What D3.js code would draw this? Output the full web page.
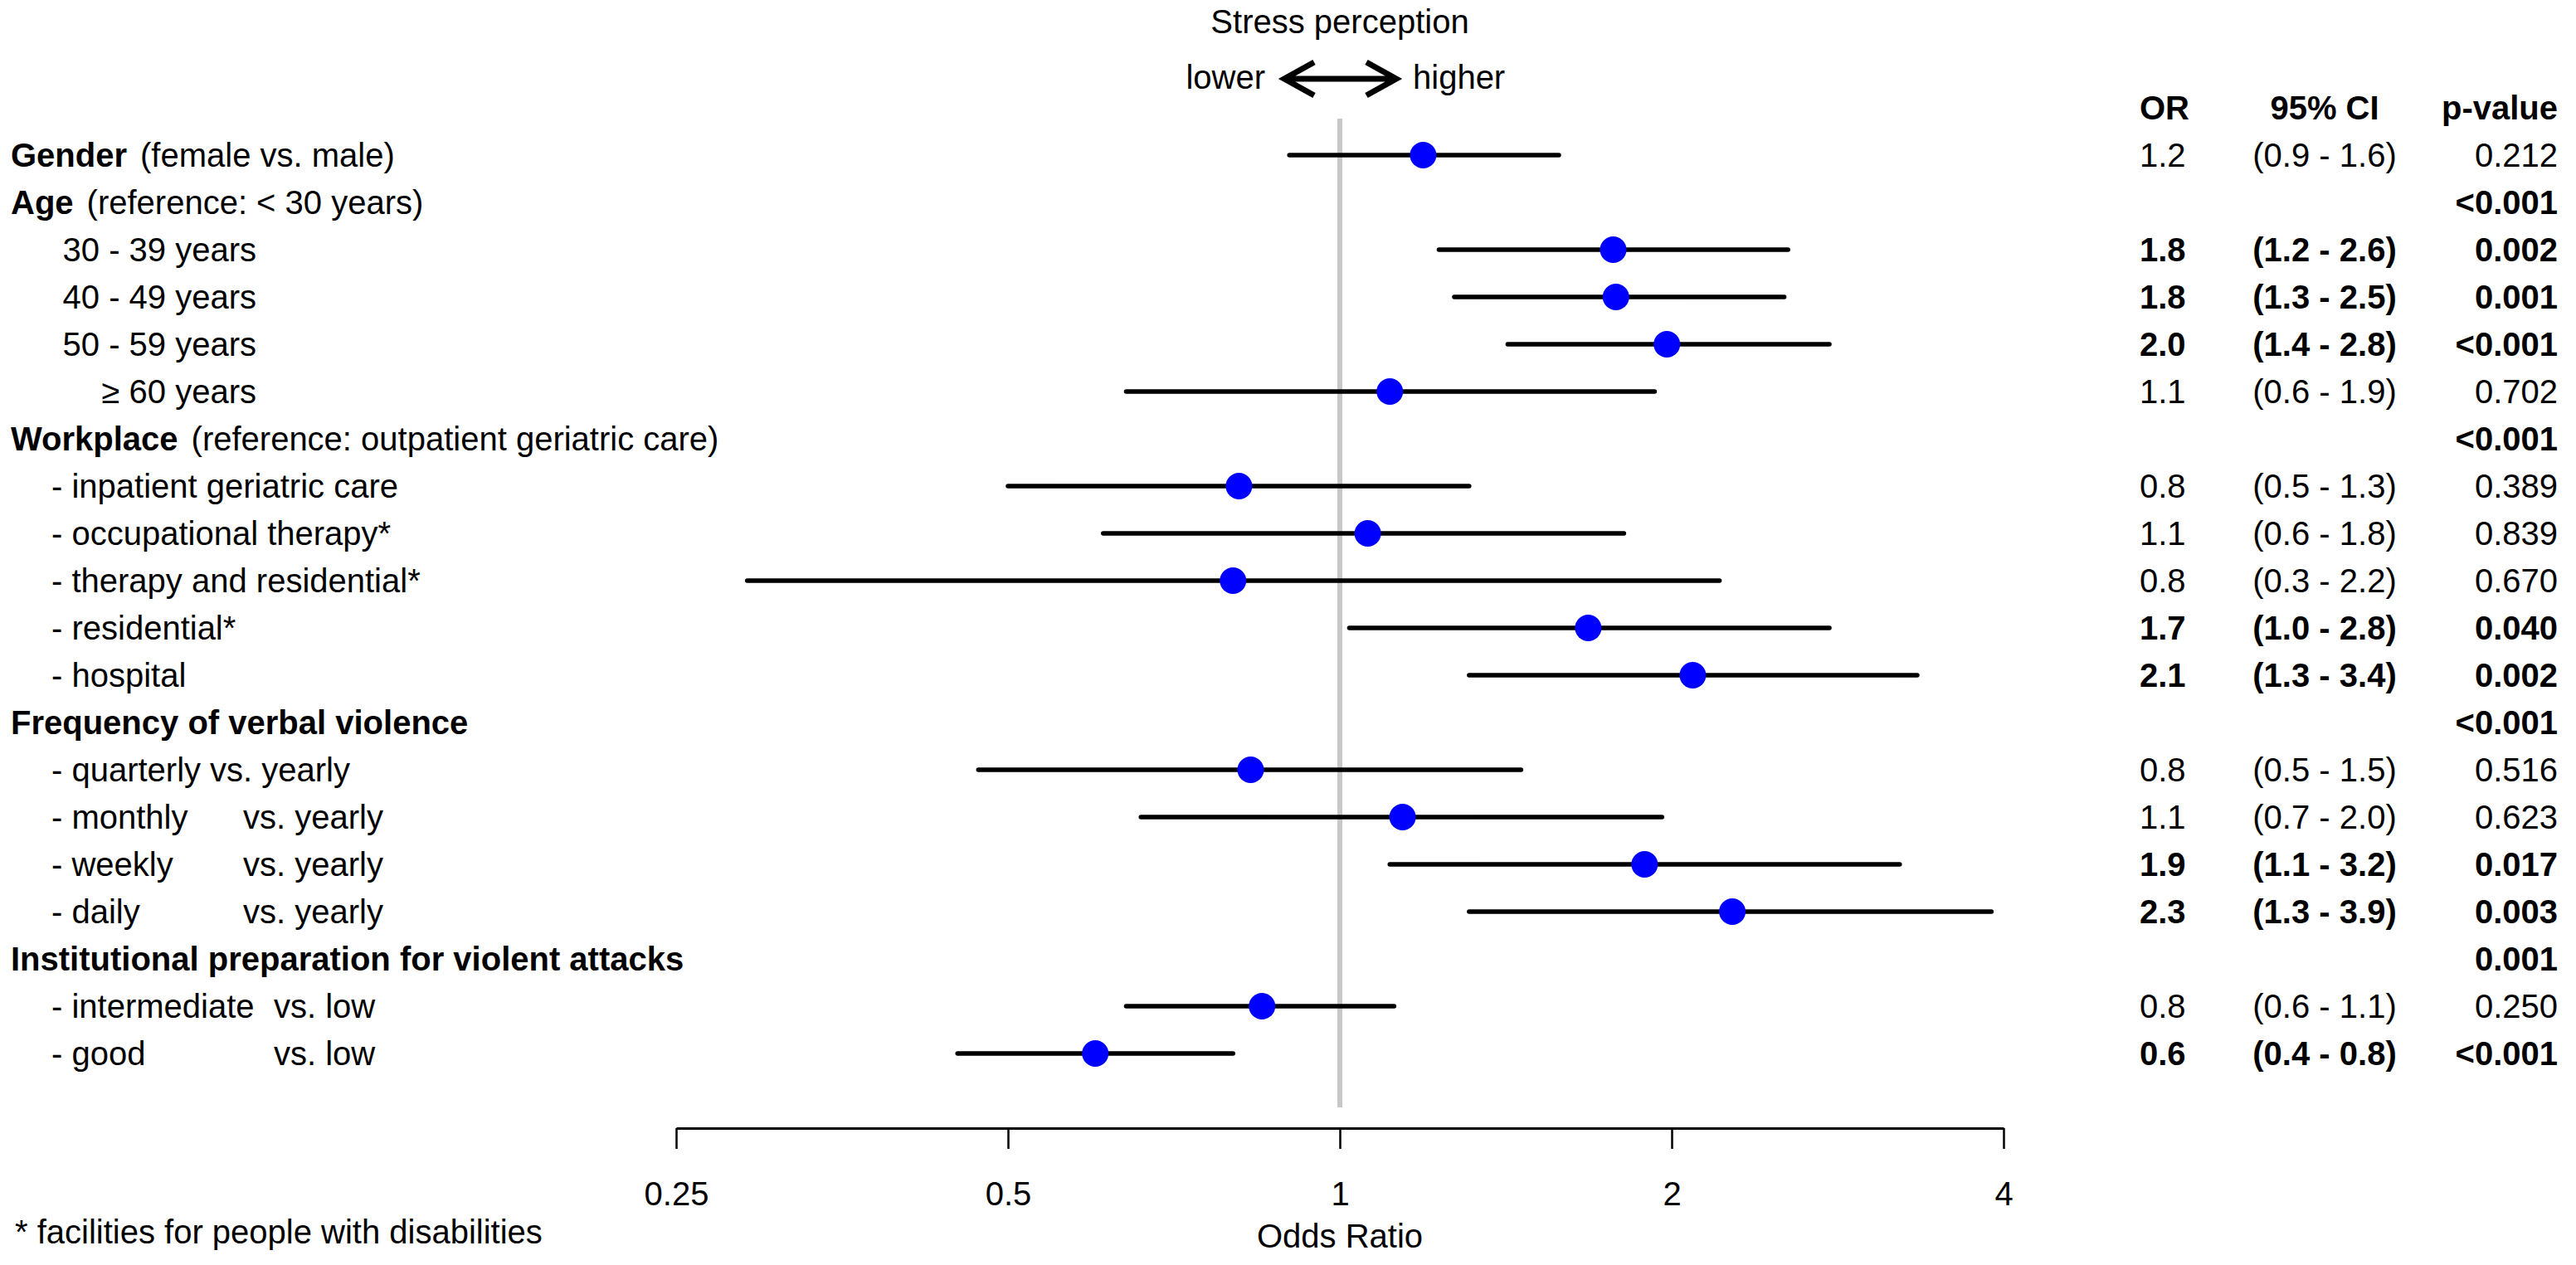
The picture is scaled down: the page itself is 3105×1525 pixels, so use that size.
<!DOCTYPE html>
<html>
<head>
<meta charset="utf-8">
<script src="https://cdn.jsdelivr.net/npm/d3@7"></script>
<style>
  body { margin: 0; background: #fff; }
  text { font-family: "Liberation Sans", Arial, sans-serif; font-size: 40px; fill: #000; }
</style>
</head>
<body>
<svg id="chart" width="3105" height="1525"></svg>
<script>
// rows of the forest plot, top to bottom
const categories = [
  "Gender", "Age", "30 - 39 years", "40 - 49 years", "50 - 59 years", "≥ 60 years",
  "Workplace", "- inpatient geriatric care", "- occupational therapy*", "- therapy and residential*",
  "- residential*", "- hospital",
  "Frequency of verbal violence", "- quarterly", "- monthly", "- weekly", "- daily",
  "Institutional preparation for violent attacks", "- intermediate", "- good"
];
const groupHeads = ["Gender", "Age", "Workplace", "Frequency of verbal violence",
  "Institutional preparation for violent attacks"];
const groupNotes = ["(female vs. male)", "(reference: < 30 years)", "(reference: outpatient geriatric care)", "", ""];
const ageBands = ["30 - 39 years", "40 - 49 years", "50 - 59 years", "≥ 60 years"];
const contrasts = ["", "", "", "", "", "", "", "", "", "", "", "", "",
  "vs. yearly", "vs. yearly", "vs. yearly", "vs. yearly", "", "vs. low", "vs. low"];

// odds ratios and 95% CI bounds (null = no estimate)
const orEst  = [1.19, null, 1.77, 1.78, 1.98, 1.11, null, 0.81, 1.06, 0.80, 1.68, 2.09, null, 0.83, 1.14, 1.89, 2.27, null, 0.85, 0.60];
const ciLow  = [0.90, null, 1.23, 1.27, 1.42, 0.64, null, 0.50, 0.61, 0.29, 1.02, 1.31, null, 0.47, 0.66, 1.11, 1.31, null, 0.64, 0.45];
const ciHigh = [1.58, null, 2.55, 2.53, 2.78, 1.93, null, 1.31, 1.81, 2.21, 2.78, 3.34, null, 1.46, 1.96, 3.22, 3.90, null, 1.12, 0.80];

// printed table
const tableHeads = ["OR", "95% CI", "p-value"];
const orText = ["1.2", "", "1.8", "1.8", "2.0", "1.1", "", "0.8", "1.1", "0.8", "1.7", "2.1", "", "0.8", "1.1", "1.9", "2.3", "", "0.8", "0.6"];
const ciText = ["(0.9 - 1.6)", "", "(1.2 - 2.6)", "(1.3 - 2.5)", "(1.4 - 2.8)", "(0.6 - 1.9)", "",
  "(0.5 - 1.3)", "(0.6 - 1.8)", "(0.3 - 2.2)", "(1.0 - 2.8)", "(1.3 - 3.4)", "",
  "(0.5 - 1.5)", "(0.7 - 2.0)", "(1.1 - 3.2)", "(1.3 - 3.9)", "", "(0.6 - 1.1)", "(0.4 - 0.8)"];
const pText = ["0.212", "<0.001", "0.002", "0.001", "<0.001", "0.702", "<0.001", "0.389", "0.839", "0.670",
  "0.040", "0.002", "<0.001", "0.516", "0.623", "0.017", "0.003", "0.001", "0.250", "<0.001"];

const tickValues = [0.25, 0.5, 1, 2, 4];
const tickLabels = ["0.25", "0.5", "1", "2", "4"];

let svg = d3.select("#chart");

let x = d3.scaleLog().base(2)
  .domain([0.25, 4])
  .range([815, 2415]);

let y = d3.scaleLinear()
  .domain([0, categories.length - 1])
  .range([187, 1270]);

let axisY = 1360;

// reference line at OR = 1
svg.append("line")
  .attr("x1", x(1)).attr("x2", x(1))
  .attr("y1", 143).attr("y2", 1335)
  .attr("stroke", "#c8c8c8")
  .attr("stroke-width", 6);

// x axis
let xAxis = d3.axisBottom(x)
  .tickValues(tickValues)
  .tickFormat((d, i) => tickLabels[i])
  .tickSize(25)
  .tickSizeOuter(0)
  .tickPadding(40);

let xGroup = svg.append("g")
  .attr("transform", "translate(0," + axisY + ")")
  .call(xAxis);
xGroup.select(".domain").attr("stroke", "#000").attr("stroke-width", 3);
xGroup.selectAll(".tick line").attr("stroke", "#000").attr("stroke-width", 2.5);
xGroup.selectAll(".tick text")
  .style("font-family", "'Liberation Sans', Arial, sans-serif")
  .style("font-size", "40px")
  .attr("fill", "#000");

svg.append("text")
  .attr("x", x(1)).attr("y", 1504)
  .attr("text-anchor", "middle")
  .text("Odds Ratio");

svg.append("text")
  .attr("x", 18).attr("y", 1499)
  .text("* facilities for people with disabilities");

// stress perception header with double arrow
svg.append("text")
  .attr("x", x(1)).attr("y", 40)
  .attr("text-anchor", "middle")
  .text("Stress perception");
svg.append("text")
  .attr("x", x(1) - 90).attr("y", 107)
  .attr("text-anchor", "end")
  .text("lower");
svg.append("text")
  .attr("x", x(1) + 88).attr("y", 107)
  .text("higher");

let ax0 = x(1) - 67, ax1 = x(1) + 68, ay = 95;
svg.append("path")
  .attr("d", "M" + ax0 + "," + ay + "H" + ax1 +
    "M" + (ax0 + 36) + "," + (ay - 20) + "L" + ax0 + "," + ay + "L" + (ax0 + 36) + "," + (ay + 20) +
    "M" + (ax1 - 36) + "," + (ay - 20) + "L" + ax1 + "," + ay + "L" + (ax1 - 36) + "," + (ay + 20))
  .attr("fill", "none")
  .attr("stroke", "#000")
  .attr("stroke-width", 7);

// row labels
let labels = svg.append("g");
categories.forEach(function(c, i) {
  let t = labels.append("text").attr("y", y(i)).attr("dy", "0.35em");
  let g = groupHeads.indexOf(c);
  if (g >= 0) {
    t.attr("x", 13);
    t.append("tspan").attr("font-weight", "bold").text(c);
    if (groupNotes[g] != "") {
      t.append("tspan").attr("dx", 16).text(groupNotes[g]);
    }
  } else if (ageBands.indexOf(c) >= 0) {
    t.attr("x", 309).attr("text-anchor", "end").text(c);
  } else {
    t.attr("x", 62).text(c);
    if (contrasts[i] != "") {
      let len = t.node().getComputedTextLength();
      let cx;
      if (c == "- quarterly") cx = 62 + len + 11;
      else if (contrasts[i] == "vs. yearly") cx = 293;
      else cx = 330;
      labels.append("text")
        .attr("x", cx).attr("y", y(i)).attr("dy", "0.35em")
        .text(contrasts[i]);
    }
  }
});

// CI whiskers and point estimates
let rows = d3.range(categories.length).filter(i => orEst[i] != null);

svg.append("g").selectAll("line")
  .data(rows)
  .enter().append("line")
  .attr("x1", i => x(ciLow[i]))
  .attr("x2", i => x(ciHigh[i]))
  .attr("y1", i => y(i))
  .attr("y2", i => y(i))
  .attr("stroke", "#000")
  .attr("stroke-width", 5.5)
  .attr("stroke-linecap", "round");

svg.append("g").selectAll("circle")
  .data(rows)
  .enter().append("circle")
  .attr("cx", i => x(orEst[i]))
  .attr("cy", i => y(i))
  .attr("r", 16)
  .attr("fill", "#0000ff");

// table on the right
let colX = [2579, 2802, 3083];
let colAnchor = ["start", "middle", "end"];
tableHeads.forEach(function(h, j) {
  svg.append("text")
    .attr("x", colX[j]).attr("y", y(-1)).attr("dy", "0.35em")
    .attr("text-anchor", colAnchor[j])
    .attr("font-weight", "bold")
    .text(h);
});

let isSig = i => parseFloat(pText[i].replace("<", "")) < 0.05;

[orText, ciText, pText].forEach(function(col, j) {
  svg.append("g").selectAll("text")
    .data(d3.range(categories.length))
    .enter().append("text")
    .attr("x", colX[j])
    .attr("y", i => y(i))
    .attr("dy", "0.35em")
    .attr("text-anchor", colAnchor[j])
    .attr("font-weight", i => isSig(i) ? "bold" : "normal")
    .text(i => col[i]);
});
</script>
</body>
</html>
